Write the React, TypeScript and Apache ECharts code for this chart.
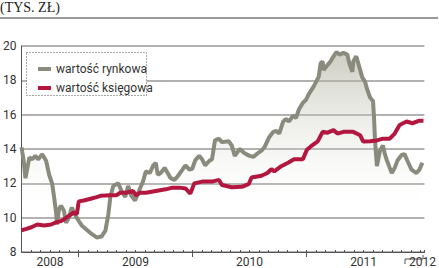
import React, { useEffect, useRef } from "react";
import * as echarts from "echarts";

// months since Jan 2008 (6 = July 2008, 12 = Jan 2009, ...)
const marketMonths = [
  6.0, 6.21, 6.42, 6.62, 6.83, 7.14, 7.45, 7.77, 8.18, 8.39, 8.6, 8.91, 9.22, 9.43, 9.64, 9.74, 9.95, 10.16,
  10.47, 10.68, 10.99, 11.3, 11.51, 11.71, 12.03, 12.34, 12.86, 13.38, 13.9, 14.42, 14.83, 15.14, 15.35,
  15.66, 16.18, 16.49, 16.91, 17.22, 17.53, 17.95, 18.47, 18.78, 19.09, 19.51, 19.82, 20.13, 20.34, 20.65,
  21.06, 21.38, 21.69, 22.1, 22.42, 22.94, 23.25, 23.66, 23.97, 24.29, 24.7, 25.01, 25.33, 25.74, 26.05,
  26.36, 26.78, 27.09, 27.82, 28.13, 28.44, 28.96, 29.48, 30.0, 30.42, 30.73, 31.25, 31.56, 32.08, 32.49,
  32.81, 33.12, 33.53, 33.85, 34.16, 34.57, 34.88, 35.19, 35.61, 35.92, 36.23, 36.75, 37.27, 37.48, 37.69,
  37.79, 38.21, 38.52, 38.83, 39.14, 39.46, 39.87, 40.29, 40.49, 40.81, 40.91, 41.22, 41.43, 41.84, 42.16,
  42.36, 42.68, 42.99, 43.09, 43.2, 43.4, 43.72, 44.03, 44.24, 44.44, 44.75, 44.96, 45.27, 45.58, 46.0,
  46.31, 46.62, 47.04, 47.56, 47.87, 48.18,
];
const marketValues = [
  14.1, 13.4, 12.3, 12.9, 13.5, 13.4, 13.6, 13.4, 13.7, 13.5, 13.3, 12.5, 12.0, 11.2, 10.3, 9.6, 10.5, 10.7,
  10.4, 9.7, 10.0, 10.6, 10.3, 10.1, 9.8, 9.55, 9.3, 9.05, 8.85, 8.9, 9.25, 10.2, 11.2,
  11.85, 12.0, 11.6, 11.2, 11.85, 11.3, 11.0, 11.7, 12.1, 12.7, 12.6, 13.0, 13.2, 12.5, 12.6,
  12.9, 12.6, 12.3, 12.2, 12.4, 12.8, 13.05, 12.8, 12.85, 13.35, 13.6, 13.4, 13.05, 13.3, 13.4,
  14.5, 14.6, 14.4, 14.45, 14.2, 13.6, 14.0, 13.75, 13.6, 13.55, 13.7, 13.9, 14.1, 14.7, 15.0,
  15.05, 14.9, 15.6, 15.75, 15.6, 15.95, 15.8, 16.3, 16.7, 16.85, 17.2, 17.65, 18.2, 19.0, 19.1,
  18.6, 18.9, 19.1, 19.4, 19.65, 19.5, 19.6, 19.5, 19.0, 18.5, 19.1, 19.4, 19.0, 18.2, 17.9,
  17.5, 17.0, 16.8, 15.9, 14.5, 13.0, 13.9, 14.2, 13.7, 13.35, 12.9, 12.6, 12.9, 13.35, 13.65,
  13.7, 13.3, 12.8, 12.6, 12.8, 13.2,
];

const bookMonths = [
  6.0, 6.52, 7.04, 7.66, 8.39, 9.12, 9.64, 10.16, 10.47, 10.99, 11.51, 11.82, 12.03, 12.55, 13.27, 13.9,
  14.31, 15.35, 15.97, 16.39, 17.01, 17.74, 18.05, 18.47, 19.09, 20.13, 21.17, 21.9, 22.62, 23.25, 23.77,
  24.18, 25.01, 26.05, 26.78, 27.09, 28.13, 29.17, 29.9, 30.21, 31.25, 31.87, 32.29, 32.6, 33.33, 34.05,
  34.68, 35.61, 36.03, 36.44, 37.17, 37.69, 38.21, 38.83, 39.25, 39.87, 40.91, 41.64, 41.95, 42.68, 43.4,
  44.03, 44.75, 45.27, 45.79, 46.52, 47.14, 47.87, 48.3,
];
const bookValues = [
  9.27, 9.35, 9.44, 9.6, 9.55, 9.6, 9.73, 9.8, 9.9, 10.1, 10.3, 10.2, 10.95, 11.0, 11.1, 11.2,
  11.27, 11.3, 11.3, 11.45, 11.45, 11.55, 11.3, 11.45, 11.45, 11.55, 11.65, 11.75, 11.75, 11.7, 11.4,
  12.0, 12.1, 12.1, 12.2, 11.9, 11.77, 11.8, 11.95, 12.34, 12.44, 12.6, 12.82, 12.7, 13.0, 13.2,
  13.4, 13.4, 13.96, 14.15, 14.44, 15.0, 14.95, 15.1, 14.9, 15.0, 15.0, 14.8, 14.44, 14.45, 14.5,
  14.6, 14.6, 14.9, 15.4, 15.6, 15.5, 15.65, 15.65,
];

const yearLabelPositions = [9, 18, 30, 42, 48.2];
const yearLabels = ["2008", "2009", "2010", "2011", "2012"];
const yearBoundaries = [12, 24, 36];
const seriesNames = ["wartość rynkowa", "wartość księgowa"];
const unitLabel = "(TYS. ZŁ)";

export default function App() {
  const ref = useRef<HTMLDivElement>(null);
  useEffect(() => {
    if (!ref.current) return;
    const chart = echarts.init(ref.current, null, { renderer: "svg" });
    const market = marketMonths.map((m, i) => [m, marketValues[i]]);
    const book = bookMonths.map((m, i) => [m, bookValues[i]]);
    const xMin = 6;
    const xMax = 48.4;
    chart.setOption({
      animation: false,
      backgroundColor: "#ffffff",
      grid: { left: 17, right: 14, top: 46, bottom: 13, containLabel: false },
      xAxis: [
        {
          type: "value",
          min: xMin,
          max: xMax,
          interval: 1,
          axisLine: { show: true, lineStyle: { color: "#555", width: 1 } },
          axisTick: { show: true, inside: true, length: 2, lineStyle: { color: "#555", width: 1 } },
          axisLabel: {
            customValues: yearLabelPositions,
            formatter: (v: number) => {
              const i = yearLabelPositions.indexOf(v);
              return i >= 0 ? yearLabels[i] : "";
            },
            color: "#333",
            fontSize: 12,
            fontFamily: "Roboto",
            margin: 4,
          },
          splitLine: { show: false },
        },
        {
          type: "value",
          min: xMin,
          max: xMax,
          position: "bottom",
          axisLine: { show: false },
          axisTick: {
            show: true,
            customValues: yearBoundaries,
            length: 5,
            lineStyle: { color: "#555", width: 1 },
          },
          axisLabel: { show: false },
          splitLine: { show: false },
        },
      ],
      yAxis: {
        type: "value",
        min: 8,
        max: 20,
        interval: 2,
        axisLine: { show: true, lineStyle: { color: "#555", width: 1 } },
        axisTick: { show: false },
        axisLabel: { color: "#333", fontSize: 12, fontFamily: "Roboto", margin: 5 },
        splitLine: { show: true, lineStyle: { color: "#999", width: 1.5 } },
      },
      legend: {
        left: 33,
        top: 57,
        orient: "vertical",
        itemWidth: 13,
        itemHeight: 4,
        itemGap: 5,
        icon: "rect",
        z: 10,
        textStyle: { color: "#333", fontSize: 12, fontFamily: "Roboto", lineHeight: 14 },
        data: seriesNames,
      },
      graphic: [
        {
          type: "rect",
          left: 26,
          top: 52,
          shape: { width: 120, height: 43 },
          style: { fill: "#fff", stroke: "#555", lineWidth: 1, lineDash: [1, 2] },
          z: 4,
        },
        {
          type: "text",
          left: 0,
          top: 0,
          style: { text: unitLabel, fill: "#222", font: "14px 'Liberation Serif'" },
        },
        {
          type: "line",
          shape: { x1: 0, y1: 18, x2: 438, y2: 18 },
          style: { stroke: "#777", lineWidth: 1.5 },
        },
        {
          type: "polyline",
          shape: { points: [[405, 264], [405, 259], [423, 259], [423, 255]] },
          style: { stroke: "#555", lineWidth: 1, fill: "none" },
        },
      ],
      series: [
        {
          name: seriesNames[0],
          type: "line",
          data: market,
          symbol: "none",
          lineStyle: { color: "#8a8b7d", width: 4 },
          itemStyle: { color: "#8a8b7d" },
          areaStyle: {
            origin: "start",
            color: new echarts.graphic.LinearGradient(0, 0, 0, 1, [
              { offset: 0, color: "rgba(165,165,145,0.8)" },
              { offset: 0.85, color: "rgba(255,255,255,0)" },
              { offset: 1, color: "rgba(255,255,255,0)" },
            ]),
          },
          z: 2,
        },
        {
          name: seriesNames[1],
          type: "line",
          data: book,
          symbol: "none",
          lineStyle: { color: "#b3163f", width: 4 },
          itemStyle: { color: "#b3163f" },
          z: 3,
        },
      ],
    });
    return () => chart.dispose();
  }, []);
  return (
    <div
      ref={ref}
      style={{ position: "fixed", left: 0, top: 0, width: 439, height: 268, background: "#fff" }}
    />
  );
}
